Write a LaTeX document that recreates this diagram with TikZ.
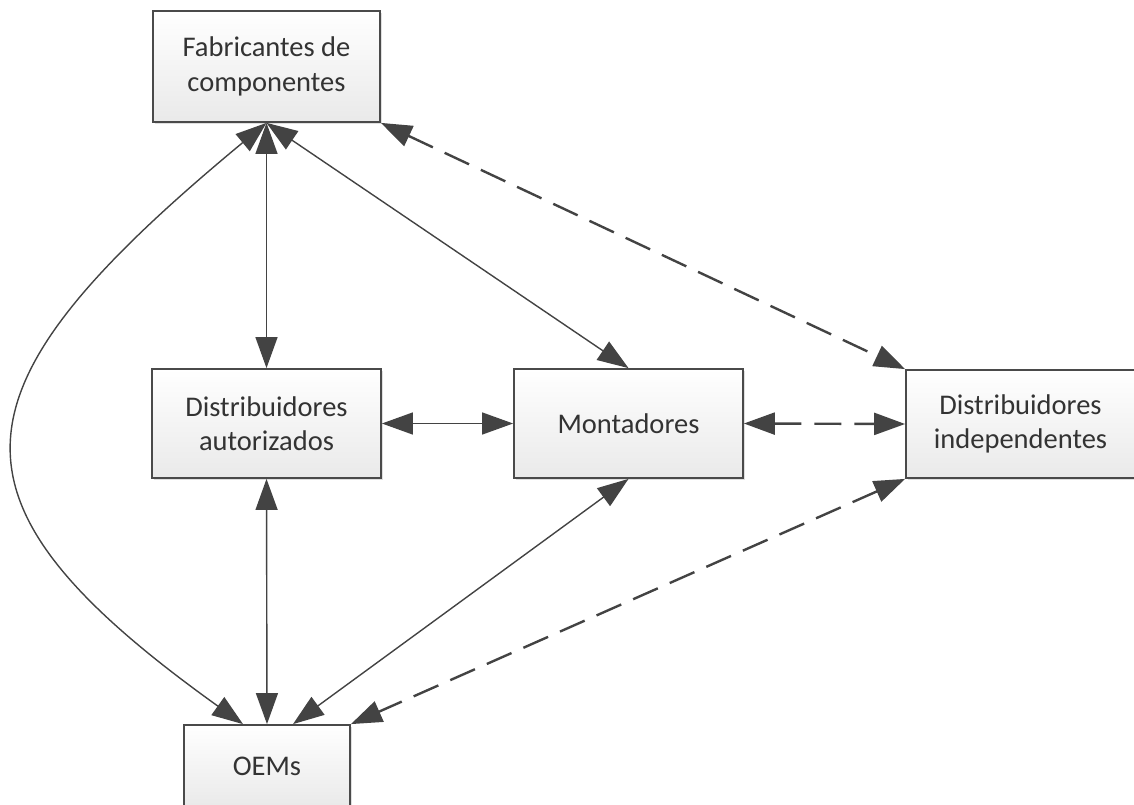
\documentclass[tikz,border=0pt]{standalone}
\usepackage{fontspec}
\setmainfont{Carlito}
\usetikzlibrary{arrows.meta,calc,shadows}
\definecolor{edgecol}{HTML}{434343}
\definecolor{inkcol}{HTML}{333333}
\definecolor{boxline}{HTML}{4A4A4A}
\tikzset{
  entity/.style={draw=boxline, line width=1.8pt, top color=white, bottom color=gray!17,
    minimum width=229pt, minimum height=109pt, inner sep=0pt, align=center,
    font=\fontsize{28.5}{34.5}\selectfont, text=inkcol,
    drop shadow={shadow xshift=1.8pt, shadow yshift=-1.8pt, opacity=0.25, fill=gray}},
  link/.style={draw=edgecol, line width=1.4pt, {Triangle[length=31pt,width=22pt]}-{Triangle[length=31pt,width=22pt]}},
  weaklink/.style={link, line width=2.4pt, dash pattern=on 27pt off 13pt}
}
\begin{document}
\begin{tikzpicture}[x=1pt,y=-1pt]
  \useasboundingbox (0,0) rectangle (1134,805);

  % actors of the supply chain
  \node[entity, minimum width=227pt, minimum height=111pt] (fab) at (266.5,66.5) {Fabricantes de\\componentes};
  \node[entity] (da)  at (266.5,423.5) {Distribuidores\\autorizados};
  \node[entity] (mon) at (628.5,423.5) {Montadores};
  \node[entity, minimum height=108pt] (di)  at (1020.5,424) {Distribuidores\\independentes};
  \node[entity, minimum width=166pt, minimum height=82pt] (oem) at (267,766) {OEMs};

  % attachment points on the top edge of OEMs
  \coordinate (oemL) at ($(oem.north)+(-24,0)$);
  \coordinate (oemR) at ($(oem.north)+(26,0)$);

  % authorised channel (solid)
  \draw[link] (fab.south) -- (da.north);
  \draw[link] (fab.south) -- (mon.north);
  \draw[link] (da.east) -- (mon.west);
  \draw[link] (da.south) -- (oem.north);
  \draw[link] (mon.south) -- (oemR);
  \draw[link] (oemL) .. controls (-70,500) and (-56,390) .. (fab.south);

  % independent channel (dashed)
  \draw[weaklink] (fab.south east) -- (di.north west);
  \draw[weaklink] (mon.east) -- (di.west);
  \draw[weaklink] (di.south west) -- (oem.north east);
\end{tikzpicture}
\end{document}
